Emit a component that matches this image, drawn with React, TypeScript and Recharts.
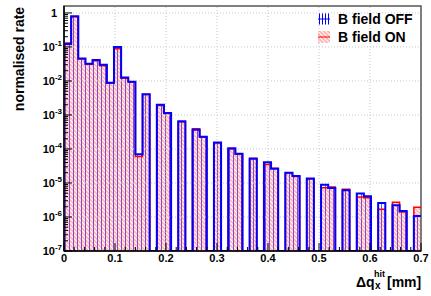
import React from "react";
import {
  ComposedChart,
  Area,
  Line,
  XAxis,
  YAxis,
  ReferenceLine,
  ReferenceArea,
  Legend,
} from "recharts";

// 50 bins of 0.014 mm from 0 to 0.7, 0 = empty bin
const BIN_WIDTH = 0.014;
const bFieldOff = [
  0.123, 0.8, 0.046, 0.032, 0.041, 0.03, 0.0089, 0.1, 0.0126, 0.0095,
  7e-5, 0.0041, 0, 0.002, 0.00115, 0, 6.5e-4, 0, 3.7e-4, 2.3e-4,
  0, 1.55e-4, 0, 1.05e-4, 7.2e-5, 0, 5.2e-5, 0, 4.1e-5, 2.6e-5,
  0, 2.0e-5, 1.6e-5, 0, 1.35e-5, 0, 8.9e-6, 7.1e-6, 0, 6.1e-6,
  0, 4.9e-6, 4.1e-6, 0, 2.6e-6, 0, 2.2e-6, 1.5e-6, 0, 1.07e-6,
];
const bFieldOn = [
  0.13, 0.77, 0.044, 0.031, 0.039, 0.028, 0.0085, 0.088, 0.012, 0.0092,
  6e-5, 0.004, 0, 0.0019, 0.0011, 0, 6.2e-4, 0, 3.9e-4, 2.2e-4,
  0, 1.5e-4, 0, 1.0e-4, 7.0e-5, 0, 5.3e-5, 0, 3.5e-5, 2.7e-5,
  0, 1.95e-5, 1.55e-5, 0, 1.3e-5, 0, 7.3e-6, 7.6e-6, 0, 6.5e-6,
  0, 3.9e-6, 3.7e-6, 0, 1.7e-6, 0, 2.7e-6, 1.4e-6, 0, 1.95e-6,
];
const seriesNames = ["B field OFF", "B field ON"];

const yDecades = [1e-7, 1e-6, 1e-5, 1e-4, 1e-3, 1e-2, 1e-1, 1];
const xMajor = [0, 0.1, 0.2, 0.3, 0.4, 0.5, 0.6, 0.7];

const Y_MIN = 1e-7;
const Y_MAX = 1.6;
const PLOT_LEFT = 64;
const PLOT_BOTTOM = 251;
const FONT = "'Liberation Sans', Arial, Helvetica, sans-serif";

// step rows at bin low edges, plus the closing edge at 0.7
const rows = bFieldOff.map((v, i) => ({
  x: Number((i * BIN_WIDTH).toFixed(3)),
  off: v > 0 ? v : Y_MIN,
  on: bFieldOn[i] > 0 ? bFieldOn[i] : Y_MIN,
}));
rows.push({ x: 0.7, off: rows[rows.length - 1].off, on: rows[rows.length - 1].on });

const yTicks: number[] = [];
yDecades.forEach((d) => {
  yTicks.push(d);
  if (d < 1) for (let k = 2; k <= 9; k++) yTicks.push(d * k);
});
const xTicks: number[] = [];
xMajor.forEach((m) => {
  xTicks.push(m);
  if (m < 0.7) for (let k = 1; k <= 4; k++) xTicks.push(Number((m + 0.02 * k).toFixed(2)));
});

function YTick(props: any) {
  const { y, payload } = props;
  const lg = Math.log10(payload.value);
  const exp = Math.round(lg);
  const major = Math.abs(lg - exp) < 1e-6;
  return (
    <g>
      <line x1={PLOT_LEFT} x2={PLOT_LEFT + (major ? 8 : 4)} y1={y} y2={y} stroke="#000" />
      {major &&
        (exp === 0 ? (
          <text x={PLOT_LEFT - 7} y={y + 4} textAnchor="end" fontSize={11} fontWeight="bold" fontFamily={FONT}>
            1
          </text>
        ) : (
          <text x={PLOT_LEFT - 2} y={y + 4} textAnchor="end" fontSize={11} fontWeight="bold" fontFamily={FONT}>
            10
            <tspan dy={-5} fontSize={8}>
              {exp}
            </tspan>
          </text>
        ))}
    </g>
  );
}

function XTick(props: any) {
  const { x, payload } = props;
  const v = payload.value;
  const major = Math.abs(v * 10 - Math.round(v * 10)) < 1e-6;
  return (
    <g>
      <line x1={x} x2={x} y1={PLOT_BOTTOM} y2={PLOT_BOTTOM - (major ? 8 : 4)} stroke="#000" />
      {major && (
        <text x={x} y={PLOT_BOTTOM + 11} textAnchor="middle" fontSize={11} fontWeight="bold" fontFamily={FONT}>
          {Number(v.toFixed(1))}
        </text>
      )}
    </g>
  );
}

function YTitle() {
  return (
    <text
      x={24}
      y={59}
      transform="rotate(-90, 24, 59)"
      textAnchor="middle"
      fontSize={14}
      fontWeight="bold"
      fontFamily={FONT}
    >
      normalised rate
    </text>
  );
}

function XTitle() {
  return (
    <text x={356} y={286.5} fontSize={14} fontWeight="bold" fontFamily={FONT}>
      Δq
      <tspan x={375} y={289} fontSize={10}>
        x
      </tspan>
      <tspan x={374} y={277} fontSize={9}>
        hit
      </tspan>
      <tspan x={387} y={286.5} fontSize={14}>
        [mm]
      </tspan>
    </text>
  );
}

function LegendBox() {
  const row = { display: "flex", alignItems: "center", height: 18 };
  const txt = { fontFamily: FONT, fontWeight: "bold" as const, fontSize: 14, color: "#000", marginLeft: 8 };
  return (
    <div>
      <div style={row}>
        <svg width={12} height={12}>
          <line x1={0} x2={12} y1={6} y2={6} stroke="#0000ff" />
          {[1.5, 4.5, 7.5, 10.5].map((lx) => (
            <line key={lx} x1={lx} x2={lx} y1={0.5} y2={11.5} stroke="#0000ff" />
          ))}
        </svg>
        <span style={txt}>{seriesNames[0]}</span>
      </div>
      <div style={row}>
        <svg width={12} height={12}>
          <rect width={12} height={12} fill="url(#hatchOn)" />
          <line x1={0} x2={12} y1={6} y2={6} stroke="#ff0000" />
        </svg>
        <span style={txt}>{seriesNames[1]}</span>
      </div>
    </div>
  );
}

export default function App() {
  return (
    <div style={{ position: "absolute", left: 0, top: 0, background: "#fff" }}>
      <ComposedChart
        width={431}
        height={296}
        data={rows}
        margin={{ top: 6, right: 10, bottom: 0, left: 0 }}
      >
        <defs>
          <pattern id="hatchOff" width="4" height="4" patternUnits="userSpaceOnUse">
            <rect x="1" y="0" width="1" height="4" fill="#5a4cff" fillOpacity="0.95" />
          </pattern>
          <pattern
            id="hatchOn"
            width="2.9"
            height="2.9"
            patternUnits="userSpaceOnUse"
            patternTransform="rotate(-45)"
          >
            <line x1="1" y1="0" x2="1" y2="2.9" stroke="#ff2020" strokeWidth="0.75" strokeOpacity="0.85" />
          </pattern>
        </defs>
        <XAxis
          type="number"
          dataKey="x"
          domain={[0, 0.7]}
          ticks={xTicks}
          interval={0}
          allowDataOverflow
          height={45}
          tickLine={false}
          axisLine={{ stroke: "#000", strokeWidth: 1.5 }}
          tick={(p: any) => <XTick {...p} />}
          label={<XTitle />}
        />
        <YAxis
          type="number"
          scale="log"
          domain={[Y_MIN, Y_MAX]}
          ticks={yTicks}
          interval={0}
          allowDataOverflow
          width={64}
          tickLine={false}
          axisLine={{ stroke: "#000", strokeWidth: 1.5 }}
          tick={(p: any) => <YTick {...p} />}
          label={<YTitle />}
        />
        {yDecades.slice(1).map((d) => (
          <ReferenceLine key={"h" + d} y={d} stroke="#c8c8c8" strokeDasharray="1 2" />
        ))}
        {xMajor.slice(1, -1).map((m) => (
          <ReferenceLine key={"v" + m} x={m} stroke="#c8c8c8" strokeDasharray="1 2" />
        ))}
        <Area
          type="stepAfter"
          dataKey="off"
          stroke="none"
          fill="url(#hatchOff)"
          fillOpacity={1}
          isAnimationActive={false}
        />
        <Area
          type="stepAfter"
          dataKey="on"
          stroke="none"
          fill="url(#hatchOn)"
          fillOpacity={1}
          isAnimationActive={false}
        />
        <Line type="stepAfter" dataKey="on" stroke="#ff0000" strokeWidth={1.5} dot={false} isAnimationActive={false} />
        <Line type="stepAfter" dataKey="off" stroke="#0000ff" strokeWidth={2} dot={false} isAnimationActive={false} />
        <ReferenceArea x1={0} x2={0.7} y1={Y_MIN} y2={Y_MAX} fill="none" stroke="#555" strokeWidth={1.5} />
        <Legend
          layout="vertical"
          align="center"
          verticalAlign="middle"
          content={() => <LegendBox />}
          wrapperStyle={{ position: "absolute", left: 318, top: 10, width: 110 }}
        />
      </ComposedChart>
    </div>
  );
}
